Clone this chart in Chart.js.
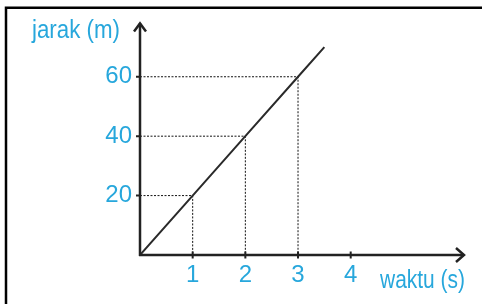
<!DOCTYPE html>
<html>
<head>
<meta charset="utf-8">
<script src="https://cdn.jsdelivr.net/npm/chart.js@4/dist/chart.umd.min.js"></script>
<style>
html,body{margin:0;padding:0;background:#fff;}
#wrap{position:relative;width:482px;height:304px;}
</style>
</head>
<body>
<div id="wrap"><canvas id="c" width="482" height="304"></canvas></div>
<script>
// Data
const timeValues = [0, 1, 2, 3, 3.5];          // waktu (s)
const distanceValues = [0, 20, 40, 60, 70];    // jarak (m)
const guideTimes = [1, 2, 3];
const guideDistances = [20, 40, 60];
const xTickLabels = [1, 2, 3, 4];
const yTickLabels = [20, 40, 60];
const xAxisTitle = 'waktu (s)';
const yAxisTitle = 'jarak (m)';
const xMax = 6.17;
const yMax = 78.3;

const BLUE = '#27a7dc';
const FONT = '"Liberation Sans", Arial, sans-serif';

const lineData = timeValues.map((t, i) => ({x: t, y: distanceValues[i]}));
const guideSets = guideTimes.map((t, i) => ({
  type: 'line',
  data: [{x: 0, y: guideDistances[i]}, {x: t, y: guideDistances[i]}, {x: t, y: 0}],
  borderColor: '#111',
  borderWidth: 1,
  borderDash: [2, 1.5],
  pointRadius: 0,
  fill: false,
  tension: 0
}));

function condensedText(ctx, text, x, y, targetWidth) {
  const w = ctx.measureText(text).width;
  const k = Math.min(1, targetWidth / w);
  ctx.save();
  ctx.translate(x, y);
  ctx.scale(k, 1);
  ctx.fillText(text, 0, 0);
  ctx.restore();
}

const axesPlugin = {
  id: 'axesDecor',
  afterDatasetsDraw(chart) {
    const ctx = chart.ctx;
    const xs = chart.scales.x, ys = chart.scales.y;
    const x0 = xs.getPixelForValue(0), y0 = ys.getPixelForValue(0);
    const xEnd = xs.getPixelForValue(xMax), yEnd = ys.getPixelForValue(yMax);
    ctx.save();
    ctx.strokeStyle = '#222';
    ctx.lineWidth = 2.5;
    ctx.lineCap = 'butt';
    // axes
    ctx.beginPath();
    ctx.moveTo(x0, y0 + 1); ctx.lineTo(x0, yEnd + 1);
    ctx.moveTo(x0 - 1, y0); ctx.lineTo(xEnd - 1, y0);
    ctx.stroke();
    // arrowheads
    ctx.lineJoin = 'miter';
    ctx.beginPath();
    ctx.moveTo(x0 - 6, yEnd + 9); ctx.lineTo(x0, yEnd + 1); ctx.lineTo(x0 + 6, yEnd + 9);
    ctx.moveTo(xEnd - 9, y0 - 7); ctx.lineTo(xEnd - 1, y0); ctx.lineTo(xEnd - 9, y0 + 7);
    ctx.stroke();
    // tick marks
    ctx.lineWidth = 2;
    ctx.beginPath();
    xTickLabels.forEach(v => {
      const px = xs.getPixelForValue(v);
      ctx.moveTo(px, y0 - 3.5); ctx.lineTo(px, y0 + 3.5);
    });
    yTickLabels.forEach(v => {
      const py = ys.getPixelForValue(v);
      ctx.moveTo(x0 - 4, py); ctx.lineTo(x0, py);
    });
    ctx.stroke();
    // frame (top and left edges)
    ctx.strokeStyle = '#000';
    ctx.lineWidth = 2.5;
    ctx.beginPath();
    ctx.moveTo(6, 304); ctx.lineTo(6, 7.75); ctx.lineTo(482, 7.75);
    ctx.stroke();
    // axis titles
    ctx.fillStyle = BLUE;
    ctx.font = '26px ' + FONT;
    ctx.textBaseline = 'alphabetic';
    ctx.textAlign = 'left';
    condensedText(ctx, yAxisTitle, 32, 38, 88);
    condensedText(ctx, xAxisTitle, 380, 288, 85);
    ctx.restore();
  }
};

new Chart(document.getElementById('c'), {
  type: 'scatter',
  data: {
    datasets: [{
      type: 'line',
      data: lineData,
      borderColor: '#2a2a2a',
      borderWidth: 2,
      pointRadius: 0,
      fill: false,
      tension: 0
    }, ...guideSets]
  },
  options: {
    responsive: false,
    animation: false,
    events: [],
    layout: {padding: {left: 0, top: 20, right: 17, bottom: 0}},
    plugins: {legend: {display: false}, tooltip: {enabled: false}},
    scales: {
      x: {
        type: 'linear', min: 0, max: xMax,
        grid: {display: false, drawTicks: false},
        border: {display: false},
        afterBuildTicks(s) { s.ticks = xTickLabels.map(v => ({value: v})); },
        afterFit(s) { s.height = 49; },
        ticks: {color: BLUE, font: {family: FONT, size: 24}, padding: 6, maxRotation: 0, autoSkip: false}
      },
      y: {
        type: 'linear', min: 0, max: yMax,
        grid: {display: false, drawTicks: false},
        border: {display: false},
        afterBuildTicks(s) { s.ticks = yTickLabels.map(v => ({value: v})); },
        afterFit(s) { s.width = 140; },
        ticks: {color: BLUE, font: {family: FONT, size: 24}, padding: 8, autoSkip: false}
      }
    }
  },
  plugins: [axesPlugin]
});
</script>
</body>
</html>
